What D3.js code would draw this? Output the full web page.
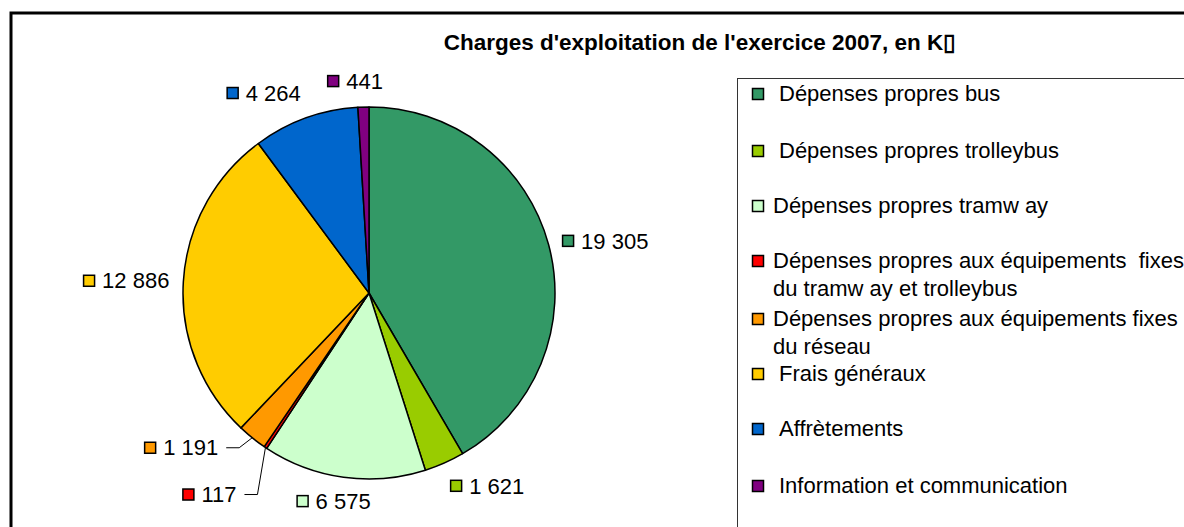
<!DOCTYPE html>
<html>
<head>
<meta charset="utf-8">
<script src="https://cdn.jsdelivr.net/npm/d3@7"></script>
<style>
  body { margin: 0; background: #fff; }
  svg { display: block; font-family: "Liberation Sans", Arial, sans-serif; }
  text { white-space: pre; }
</style>
</head>
<body>
<svg></svg>
<script>
const width = 1184;
const height = 527;

// Chart data
const categories = [
    "Dépenses propres bus",
    "Dépenses propres trolleybus",
    "Dépenses propres tramw ay",
    "Dépenses propres aux équipements  fixes|du tramw ay et trolleybus",
    "Dépenses propres aux équipements fixes|du réseau",
    "Frais généraux",
    "Affrètements",
    "Information et communication"
];
const values = [19305, 1621, 6575, 117, 1191, 12886, 4264, 441];
const colors = ["#339966", "#99CC00", "#CCFFCC", "#FF0000", "#FF9900", "#FFCC00", "#0066CC", "#800080"];
const valueLabels = ["19 305", "1 621", "6 575", "117", "1 191", "12 886", "4 264", "441"];

const svg = d3.select("svg")
    .attr("width", width)
    .attr("height", height);

// Chart frame
svg.append("path")
    .attr("d", `M11,${height}V13H${width}`)
    .attr("fill", "none")
    .attr("stroke", "#000")
    .attr("stroke-width", 3);

// Title
svg.append("text")
    .attr("x", 700)
    .attr("y", 50)
    .attr("text-anchor", "middle")
    .attr("font-weight", "bold")
    .attr("font-size", 22.5)
    .text("Charges d'exploitation de l'exercice 2007, en K\u25AF");

// Pie
const cx = 369, cy = 293, radius = 186;
const pie = d3.pie().sort(null).value(d => d);
const arcs = pie(values);
const arc = d3.arc().innerRadius(0).outerRadius(radius);

const g = svg.append("g").attr("transform", `translate(${cx},${cy})`);

g.selectAll("path.slice")
    .data(arcs)
    .enter().append("path")
    .attr("class", "slice")
    .attr("d", arc)
    .attr("fill", (d, i) => colors[i])
    .attr("stroke", "#000")
    .attr("stroke-width", 1.5)
    .attr("stroke-linejoin", "round");

// Data labels
const labelFont = 22;
const box = 11;
// leader lines for the two thin slices: elbow offset from the slice edge
const leaders = { 3: [-8, 47], 4: [-13, 10] };

arcs.forEach((d, i) => {
    const mid = (d.startAngle + d.endAngle) / 2;
    const sx = Math.sin(mid), sy = -Math.cos(mid);
    let px, py, anchor;
    if (leaders[i]) {
        const ex = radius * sx, ey = radius * sy;
        const bx = ex + leaders[i][0], by = ey + leaders[i][1];
        g.append("path")
            .attr("d", `M${ex},${ey}L${bx},${by}H${bx - 13}`)
            .attr("fill", "none")
            .attr("stroke", "#000")
            .attr("stroke-width", 1);
        px = bx - 21; py = by; anchor = "end";
    } else {
        const r = radius + 14;
        px = r * sx; py = r * sy;
        anchor = sx > 0.3 ? "start" : (sx < -0.3 ? "end" : "middle");
        if (sy > 0.5) py += 10;
        if (sy < -0.5) py -= 12;
    }
    const lg = g.append("g");
    const t = lg.append("text")
        .attr("font-size", labelFont)
        .attr("dy", "0.35em")
        .attr("x", box + 8)
        .text(valueLabels[i]);
    const tw = t.node().getComputedTextLength();
    const total = box + 8 + tw;
    lg.insert("rect", "text")
        .attr("x", 0.5)
        .attr("y", -box / 2)
        .attr("width", box)
        .attr("height", box)
        .attr("fill", colors[i])
        .attr("stroke", "#000")
        .attr("stroke-width", 1.5);
    const ox = anchor === "start" ? px : (anchor === "end" ? px - total : px - total / 2 - 8);
    lg.attr("transform", `translate(${ox},${py})`);
});

// Legend box
svg.append("rect")
    .attr("x", 737.5)
    .attr("y", 78.5)
    .attr("width", 500)
    .attr("height", 500)
    .attr("fill", "#fff")
    .attr("stroke", "#333")
    .attr("stroke-width", 1);

const legendY = [93, 150, 205, 260, 318, 373, 428, 485];
const legendIndent = [27, 27, 21, 21, 21, 27, 27, 27];

const legend = svg.append("g").attr("transform", "translate(752,0)");
categories.forEach((c, i) => {
    const item = legend.append("g").attr("transform", `translate(0,${legendY[i]})`);
    item.append("rect")
        .attr("x", 0.5)
        .attr("y", -box / 2 + 1)
        .attr("width", box)
        .attr("height", box)
        .attr("fill", colors[i])
        .attr("stroke", "#000")
        .attr("stroke-width", 1.5);
    c.split("|").forEach((line, k) => {
        item.append("text")
            .attr("x", legendIndent[i])
            .attr("y", k * 28)
            .attr("dy", "0.35em")
            .attr("font-size", labelFont)
            .text(line);
    });
});
</script>
</body>
</html>
